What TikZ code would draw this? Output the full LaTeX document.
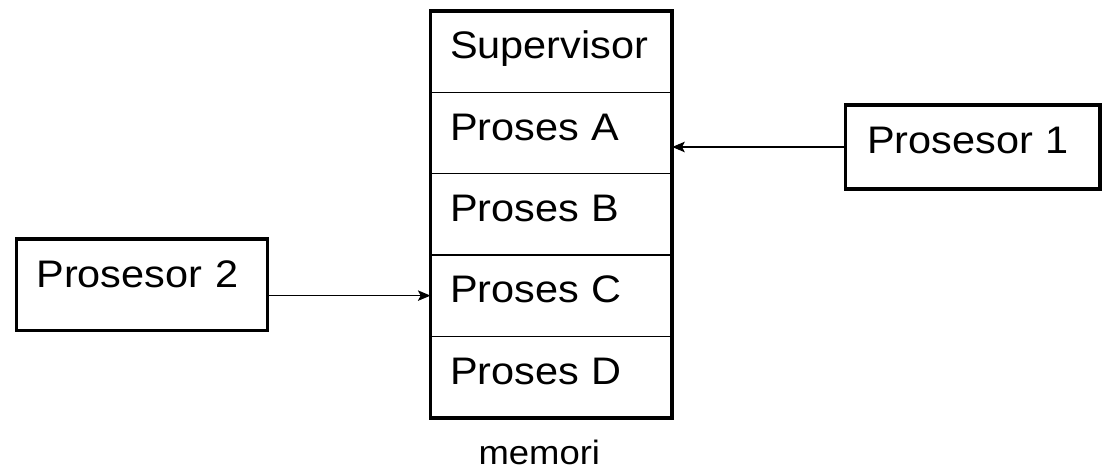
\documentclass[tikz,border=0pt]{standalone}
\usepackage{fontspec}
\setmainfont{Liberation Sans}[FakeStretch=1.08]
\usetikzlibrary{arrows.meta,positioning}

\begin{document}
\begin{tikzpicture}[x=0.025cm,y=-0.025cm,
          every node/.style={inner sep=0pt,outer sep=0pt},
          >={Stealth[length=9pt,width=7.5pt,inset=2pt]},
          cell/.style={draw,line width=0.8pt,minimum height=2.0325cm,
            text width=5.06cm,inner xsep=0.49cm,align=left,
            text height=0.675cm,text depth=0.31cm,
            font=\fontsize{27.3}{30}\selectfont},
          proc/.style={draw,line width=2.6pt,text width=5.28cm,inner xsep=0.54cm,
            align=left,text height=0.675cm,text depth=0.375cm,
            font=\fontsize{27.3}{30}\selectfont}]
          \useasboundingbox(0,0)rectangle(1104,472);
          % memori: tumpukan sel
          \node[cell,anchor=north west](sup) at (430.5,11){Supervisor};
          \node[cell,below=0pt of sup](pa){Proses A};
          \node[cell,below=0pt of pa](pb){Proses B};
          \node[cell,below=0pt of pb](pc){Proses C};
          \node[cell,below=0pt of pc](pd){Proses D};
          \draw[line width=2.8pt](sup.north west)rectangle(pd.south east);
          \node[below=0.56cm of pd,xshift=-0.3cm,font=\fontsize{24}{28}\selectfont](lbl){memori};
          % prosesor
          \node[proc,minimum height=2.1cm](p1) at (972.75,147){Prosesor 1};
          \node[proc,minimum height=2.29cm,text depth=0.56cm,inner xsep=0.5cm](p2) at (142,284.75){Prosesor 2};
          \draw[->,line width=0.8pt](p1.west)--(p1.west-|pa.east);
          \draw[->,line width=0.8pt](p2.east|-pc.west)--(pc.west);
        \end{tikzpicture}
\end{document}
